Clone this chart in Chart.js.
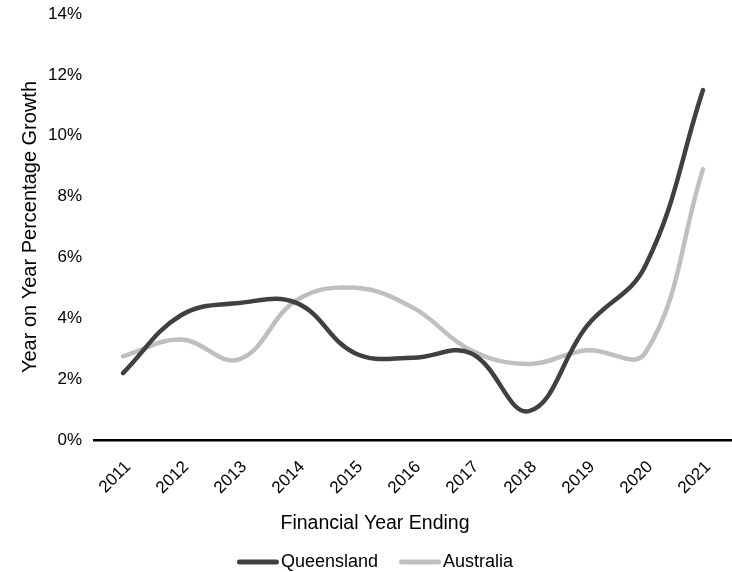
<!DOCTYPE html>
<html>
<head>
<meta charset="utf-8">
<script src="https://cdn.jsdelivr.net/npm/chart.js@4"></script>
<style>
  html, body { margin: 0; padding: 0; background: #fff; }
  #wrap { width: 732px; height: 572px; }
</style>
</head>
<body>
<div id="wrap"><canvas id="c" width="732" height="572"></canvas></div>
<script>
// Financial years (ending)
const years = ['2011','2012','2013','2014','2015','2016','2017','2018','2019','2020','2021'];
// Year on year growth, percent
const queensland = [2.2, 4.1, 4.5, 4.5, 2.85, 2.7, 2.85, 0.95, 3.75, 5.7, 11.5];
const australia  = [2.75, 3.3, 2.65, 4.6, 5.0, 4.35, 2.95, 2.5, 2.95, 2.85, 8.9];

const FONT = "'Liberation Sans', Arial, sans-serif";
Chart.defaults.font.family = FONT;
Chart.defaults.font.size = 17;
Chart.defaults.color = '#000';

// X axis title and a compact line-style legend, centred under the chart
const bottomText = {
  id: 'bottomText',
  afterDraw(chart) {
    const ctx = chart.ctx;
    const cx = 375;
    ctx.save();
    ctx.fillStyle = '#000';
    ctx.textBaseline = 'middle';
    ctx.textAlign = 'center';
    ctx.font = '19.5px ' + FONT;
    ctx.fillText('Financial Year Ending', cx, 524);

    ctx.font = '18px ' + FONT;
    ctx.textAlign = 'left';
    const lineLen = 42, textGap = 2, itemGap = 21, y = 562;
    const items = chart.data.datasets.map(ds => ({ text: ds.label, color: ds.borderColor, w: ctx.measureText(ds.label).width }));
    const total = items.reduce((s, it) => s + lineLen + textGap + it.w, 0) + itemGap * (items.length - 1);
    let x = cx - total / 2;
    items.forEach(it => {
      ctx.fillStyle = it.color;
      ctx.beginPath();
      ctx.roundRect(x, y - 2.5, lineLen, 5, 2.5);
      ctx.fill();
      x += lineLen + textGap;
      ctx.fillStyle = '#000';
      ctx.fillText(it.text, x, y);
      x += it.w + itemGap;
    });
    ctx.restore();
  }
};

new Chart(document.getElementById('c'), {
  type: 'line',
  data: {
    labels: years,
    datasets: [
      { label: 'Queensland', data: queensland, borderColor: '#404040', backgroundColor: '#404040',
        borderWidth: 4.5, pointRadius: 0, tension: 0.4, borderCapStyle: 'round' },
      { label: 'Australia', data: australia, borderColor: '#bfbfbf', backgroundColor: '#bfbfbf',
        borderWidth: 4.5, pointRadius: 0, tension: 0.4, borderCapStyle: 'round' }
    ]
  },
  options: {
    responsive: false,
    animation: false,
    events: [],
    layout: { padding: { top: 0, right: 0, left: 0, bottom: 33 } },
    plugins: {
      legend: { display: false },
      tooltip: { enabled: false }
    },
    scales: {
      x: {
        offset: true,
        grid: { display: false },
        border: { display: true, color: '#000', width: 2.5 },
        ticks: { minRotation: 45, maxRotation: 45, padding: 9, labelOffset: 5, font: { size: 17 } },
        afterFit: s => { s.height = 99; }
      },
      y: {
        min: 0, max: 14,
        grid: { display: false, drawTicks: false },
        border: { display: false },
        ticks: { stepSize: 2, padding: 12, callback: v => v + '%', font: { size: 17 } },
        title: { display: true, text: 'Year on Year Percentage Growth', font: { size: 20 }, padding: { top: 18, bottom: 4 } },
        afterFit: s => { s.width = 94; s.paddingTop = 14; }
      }
    }
  },
  plugins: [bottomText]
});
</script>
</body>
</html>
